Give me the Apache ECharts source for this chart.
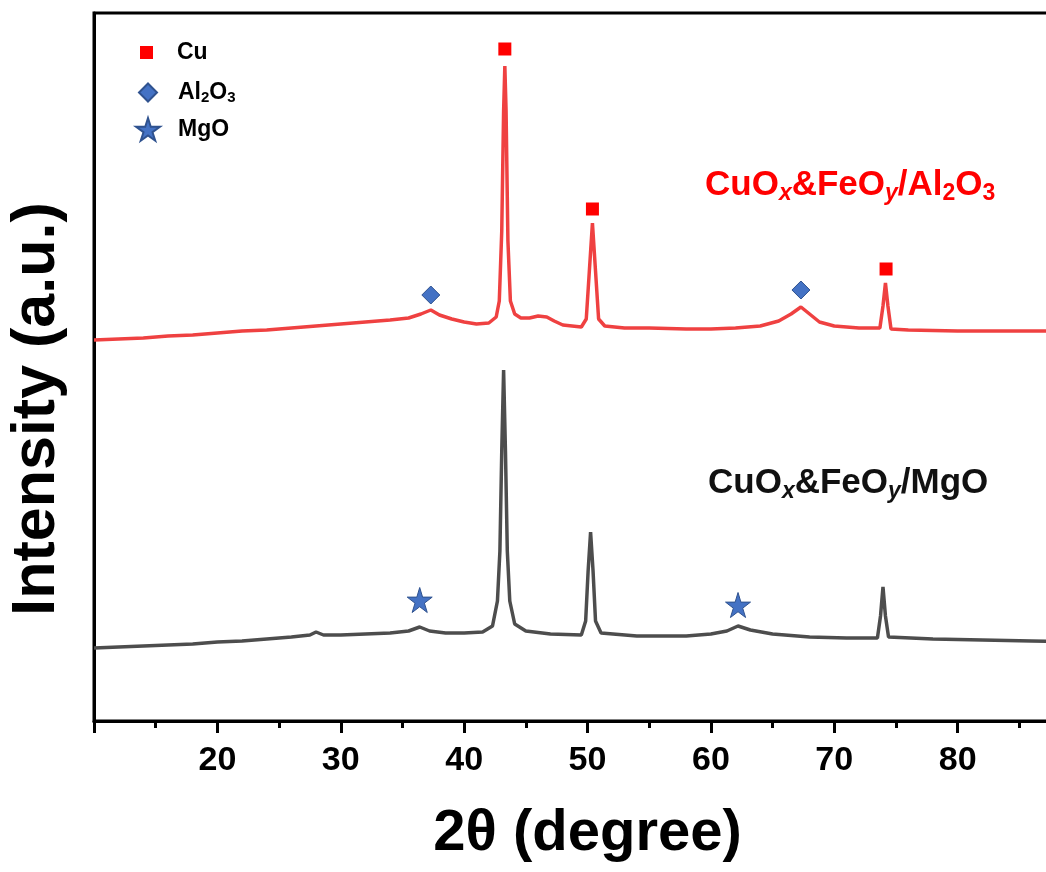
<!DOCTYPE html>
<html>
<head>
<meta charset="utf-8">
<script src="https://cdn.jsdelivr.net/npm/echarts@6/dist/echarts.min.js"></script>
<style>
  html, body { margin: 0; padding: 0; background: #fff; }
  #main { width: 1046px; height: 872px; }
</style>
</head>
<body>
<div id="main"></div>
<script>
// 横轴 2θ 刻度
var xMin = 10;
var xMax = 90;
var xStep = 10;

// CuOx&FeOy/Al2O3 曲线（红）
var al2o3Angle = [10, 12, 14, 16, 18, 20, 22, 24, 26, 28, 30, 32, 34, 35.5, 36.5, 37.3, 38, 39, 40, 41, 42, 42.6,
  42.85, 43.05, 43.2, 43.3, 43.4, 43.55, 43.75, 44.1, 44.6, 45.3, 46, 46.7, 47.3, 48, 49.5, 49.9, 50.15, 50.4, 50.65,
  50.9, 51.4, 53, 55, 58, 60, 62, 64, 65.5, 66.5, 67.3, 68, 68.8, 70, 72, 73.7, 73.95, 74.15, 74.35, 74.6,
  76, 80, 84, 87, 90];
var al2o3Intensity = [381, 382, 383, 385, 386, 388, 390, 391, 393, 395, 397, 399, 401, 403, 407, 411, 406, 402, 399, 397, 398, 404,
  420, 490, 610, 655, 610, 480, 420, 407, 403, 403, 405, 404, 400, 396, 394, 402, 450, 498, 450,
  402, 395, 393, 393, 392, 392, 393, 395, 400, 407, 414, 407, 399, 395, 393, 393, 415, 438, 415, 392,
  391, 390, 390, 390, 390];

// CuOx&FeOy/MgO 曲线（灰）
var mgoAngle = [10, 12, 14, 16, 18, 20, 22, 24, 26, 27.5, 28, 28.6, 30, 32, 34, 35.5, 36.4, 37.2, 38.5, 40, 41.5, 42.3,
  42.7, 42.9, 43.05, 43.2, 43.35, 43.5, 43.7, 44.1, 45, 47, 49.5, 49.85, 50.05, 50.25, 50.45, 50.65, 51.1,
  54, 58, 60, 61.3, 62.2, 63.2, 65, 68, 71, 73.5, 73.75, 73.95, 74.15, 74.4, 78, 82, 86, 90];
var mgoIntensity = [73, 74, 75, 76, 77, 79, 80, 82, 84, 86, 89, 86, 86, 87, 88, 90, 94, 90, 88, 88, 89, 95,
  120, 170, 270, 351, 270, 170, 120, 97, 90, 87, 86, 100, 150, 189, 150, 100, 88,
  85, 85, 87, 90, 95, 91, 87, 84, 83, 83, 105, 134, 105, 84, 82, 81, 80, 79];

// 物相标记位置
var cuMarkAngle = [43.3, 50.4, 74.2];
var cuMarkY = [672, 512, 452];
var al2o3MarkAngle = [37.3, 67.3];
var al2o3MarkY = [426, 431];
var mgoMarkAngle = [36.4, 62.2];
var mgoMarkY = [121, 116];

var FONT = 'Arial, "Liberation Sans", sans-serif';
var STAR = 'path://M50,0L61,35L98,35L68,57L79,91L50,70L21,91L32,57L2,35L39,35Z';
var BLUE = '#4472c4';

function zip(xs, ys) {
  var out = [];
  for (var i = 0; i < xs.length; i++) {
    out.push([xs[i], ys[i]]);
  }
  return out;
}

// 图例文字，padLeft 用来对齐文字起点
function legendText(padLeft) {
  return {
    fontFamily: FONT, fontWeight: 'bold', fontSize: 23, color: '#000',
    padding: [0, 0, 0, padLeft],
    rich: {
      n: { fontFamily: FONT, fontWeight: 'bold', fontSize: 23, lineHeight: 26, color: '#000' },
      s: { fontFamily: FONT, fontWeight: 'bold', fontSize: 15, lineHeight: 15, verticalAlign: 'bottom', color: '#000' }
    }
  };
}

// 图中样品名称的富文本样式
function labelRich(color) {
  return {
    n: { fontFamily: FONT, fontWeight: 'bold', fontSize: 35, lineHeight: 40, fill: color },
    i: { fontFamily: FONT, fontWeight: 'bold', fontStyle: 'italic', fontSize: 23, lineHeight: 22, verticalAlign: 'bottom', fill: color },
    s: { fontFamily: FONT, fontWeight: 'bold', fontSize: 23, lineHeight: 22, verticalAlign: 'bottom', fill: color }
  };
}

var chart = echarts.init(document.getElementById('main'), null, { renderer: 'canvas' });

var option = {
  backgroundColor: '#fff',
  animation: false,
  grid: {
    left: 94, top: 13, width: 987, height: 708,
    outerBoundsMode: 'none', containLabel: false,
    show: true, borderColor: '#000', borderWidth: 3, backgroundColor: 'transparent'
  },
  legend: [
    {
      data: ['Cu'], left: 140, top: 41, padding: 0, orient: 'vertical',
      itemWidth: 13, itemHeight: 13, selectedMode: false, textStyle: legendText(19),
      formatter: function () { return '{n|Cu}'; }
    },
    {
      data: ['Al2O3'], left: 138, top: 81, padding: 0, orient: 'vertical',
      itemWidth: 18, itemHeight: 18, selectedMode: false, textStyle: legendText(16),
      formatter: function () { return '{n|Al}{s|2}{n|O}{s|3}'; }
    },
    {
      data: ['MgO'], left: 135, top: 117, padding: 0, orient: 'vertical',
      itemWidth: 24, itemHeight: 24, selectedMode: false, textStyle: legendText(13),
      formatter: function () { return '{n|MgO}'; }
    }
  ],
  xAxis: {
    type: 'value', min: xMin, max: xMax, interval: xStep,
    name: '2θ (degree)', nameLocation: 'middle', nameGap: 84,
    nameTextStyle: { fontFamily: FONT, fontWeight: 'bold', fontSize: 58, color: '#000' },
    axisLine: { show: true, lineStyle: { color: '#000', width: 3 } },
    axisTick: { show: true, length: 12, lineStyle: { color: '#000', width: 3 } },
    minorTick: { show: true, splitNumber: 2, length: 7, lineStyle: { color: '#000', width: 3 } },
    splitLine: { show: false },
    axisLabel: {
      showMinLabel: false, margin: 23,
      fontFamily: FONT, fontWeight: 'bold', fontSize: 34, color: '#000'
    }
  },
  yAxis: {
    type: 'value', min: 0, max: 708,
    axisLine: { show: true, lineStyle: { color: '#000', width: 3 } },
    axisTick: { show: false },
    axisLabel: { show: false },
    splitLine: { show: false }
  },
  graphic: [
    {
      type: 'text', x: 37, y: 409, rotation: Math.PI / 2,
      style: { text: 'Intensity (a.u.)', font: 'bold 61px ' + FONT, fill: '#000', align: 'center', verticalAlign: 'middle' }
    },
    {
      type: 'text', x: 705, y: 165,
      style: {
        text: '{n|CuO}{i|x}{n|&FeO}{i|y}{n|/Al}{s|2}{n|O}{s|3}',
        rich: labelRich('#ff0000')
      }
    },
    {
      type: 'text', x: 708, y: 463,
      style: {
        text: '{n|CuO}{i|x}{n|&FeO}{i|y}{n|/MgO}',
        rich: labelRich('#111')
      }
    }
  ],
  series: [
    {
      name: 'CuOx&FeOy/Al2O3', type: 'line', data: zip(al2o3Angle, al2o3Intensity),
      showSymbol: false, lineStyle: { color: '#ef4141', width: 3.5 }, itemStyle: { color: '#ef4141' }, z: 2
    },
    {
      name: 'CuOx&FeOy/MgO', type: 'line', data: zip(mgoAngle, mgoIntensity),
      showSymbol: false, lineStyle: { color: '#4d4d4d', width: 3.5 }, itemStyle: { color: '#4d4d4d' }, z: 2
    },
    {
      name: 'Cu', type: 'scatter', data: zip(cuMarkAngle, cuMarkY),
      symbol: 'rect', symbolSize: 13, itemStyle: { color: '#ff0000', opacity: 1 }, z: 3
    },
    {
      name: 'Al2O3', type: 'scatter', data: zip(al2o3MarkAngle, al2o3MarkY),
      symbol: 'diamond', symbolSize: [18, 18], itemStyle: { color: BLUE, borderColor: '#2f528f', borderWidth: 1, opacity: 1 }, z: 3
    },
    {
      name: 'MgO', type: 'scatter', data: zip(mgoMarkAngle, mgoMarkY),
      symbol: STAR, symbolSize: 25, itemStyle: { color: BLUE, borderColor: '#2f528f', borderWidth: 1, opacity: 1 }, z: 3
    }
  ]
};

chart.setOption(option);
</script>
</body>
</html>
